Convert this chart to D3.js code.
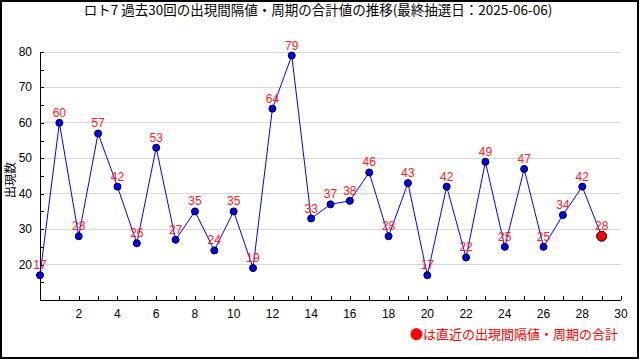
<!DOCTYPE html>
<html><head><meta charset="utf-8">
<script src="https://cdn.jsdelivr.net/npm/d3@7"></script>
<style>body{margin:0;background:#fff}svg{display:block}</style>
</head><body>
<svg id="c" width="640" height="360"></svg>
<script>
const titleText = "ロト7 過去30回の出現間隔値・周期の合計値の推移(最終抽選日：2025-06-06)";
const yTitle = "出現数";
const legendText = "●は直近の出現間隔値・周期の合計";
const draws = d3.range(0, 30);
const values = [17,60,28,57,42,26,53,27,35,24,35,19,64,79,33,37,38,46,28,43,17,42,22,49,25,47,25,34,42,28];
const xTickLabels = [2,4,6,8,10,12,14,16,18,20,22,24,26,28,30];
const yTickLabels = [20,30,40,50,60,70,80];

const svg = d3.select("#c");
const jp = "'Noto Sans CJK JP', sans-serif";
const num = "'Liberation Sans', Arial, sans-serif";

svg.append("rect").attr("x",1).attr("y",1).attr("width",637).attr("height",357)
  .attr("fill","#fff").attr("stroke","#000").attr("stroke-width",2);

const x = d3.scaleLinear().domain([0,30]).range([40,621]);
const y = d3.scaleLinear().domain([10,80]).range([300,52]);

// grid
svg.append("g").selectAll("line").data(yTickLabels).join("line")
  .attr("x1",x(0)).attr("x2",x(30)).attr("y1",d=>y(d)).attr("y2",d=>y(d))
  .attr("stroke","#d8d8d8").attr("stroke-width",1).attr("shape-rendering","crispEdges");

// y axis
const yAxis = d3.axisRight(y).tickValues(d3.range(10,81,5)).tickSize(4).tickFormat("");
const gy = svg.append("g").attr("transform",`translate(${x(0)},0)`).call(yAxis);
gy.select(".domain").attr("d",`M0,${y(80)}V${y(10)}`);
gy.selectAll("line,path").attr("stroke","#000").attr("shape-rendering","crispEdges");
svg.append("g").selectAll("text").data(yTickLabels).join("text")
  .attr("x",x(0)-8).attr("y",d=>y(d)+4).attr("text-anchor","end")
  .attr("font-family",num).attr("font-size",12).attr("fill","#000").text(d=>d);

// x axis
const xAxis = d3.axisTop(x).tickValues(d3.range(0,31)).tickSize(4).tickFormat("");
const gx = svg.append("g").attr("transform",`translate(0,${y(10)})`).call(xAxis);
gx.select(".domain").attr("d",`M${x(0)},0H${x(30)}`);
gx.selectAll("line,path").attr("stroke","#000").attr("shape-rendering","crispEdges");
svg.append("g").selectAll("text").data(xTickLabels).join("text")
  .attr("x",d=>x(d)).attr("y",y(10)+18).attr("text-anchor","middle")
  .attr("font-family",num).attr("font-size",12).attr("fill","#000").text(d=>d);

// line
const line = d3.line().x((d,i)=>x(draws[i])).y(d=>y(d));
svg.append("path").datum(values).attr("d",line).attr("fill","none")
  .attr("stroke","#0000ff").attr("stroke-width",1);

// points
svg.append("g").selectAll("circle").data(values).join("circle")
  .attr("cx",(d,i)=>x(draws[i])).attr("cy",d=>y(d))
  .attr("r",(d,i)=>i===values.length-1?5:3.5)
  .attr("fill",(d,i)=>i===values.length-1?"#ff0000":"#0000ff")
  .attr("stroke","#000").attr("stroke-width",1);

// value labels
svg.append("g").selectAll("text").data(values).join("text")
  .attr("x",(d,i)=>x(draws[i])).attr("y",d=>y(d)-6).attr("text-anchor","middle")
  .attr("font-family",num).attr("font-size",12).attr("fill","#ff2020").text(d=>d);

// title
svg.append("text").attr("x",318).attr("y",15).attr("text-anchor","middle")
  .attr("font-family",jp).attr("font-size",13.5).attr("fill","#000").text(titleText);

// y title
svg.append("text").attr("transform","translate(15,180) rotate(-90)").attr("text-anchor","middle")
  .attr("font-family",jp).attr("font-size",12).attr("fill","#000").text(yTitle);

// legend
svg.append("text").attr("x",618).attr("y",339).attr("text-anchor","end")
  .attr("font-family",jp).attr("font-size",13).attr("fill","#ff0000").text(legendText);
</script>
</body></html>
